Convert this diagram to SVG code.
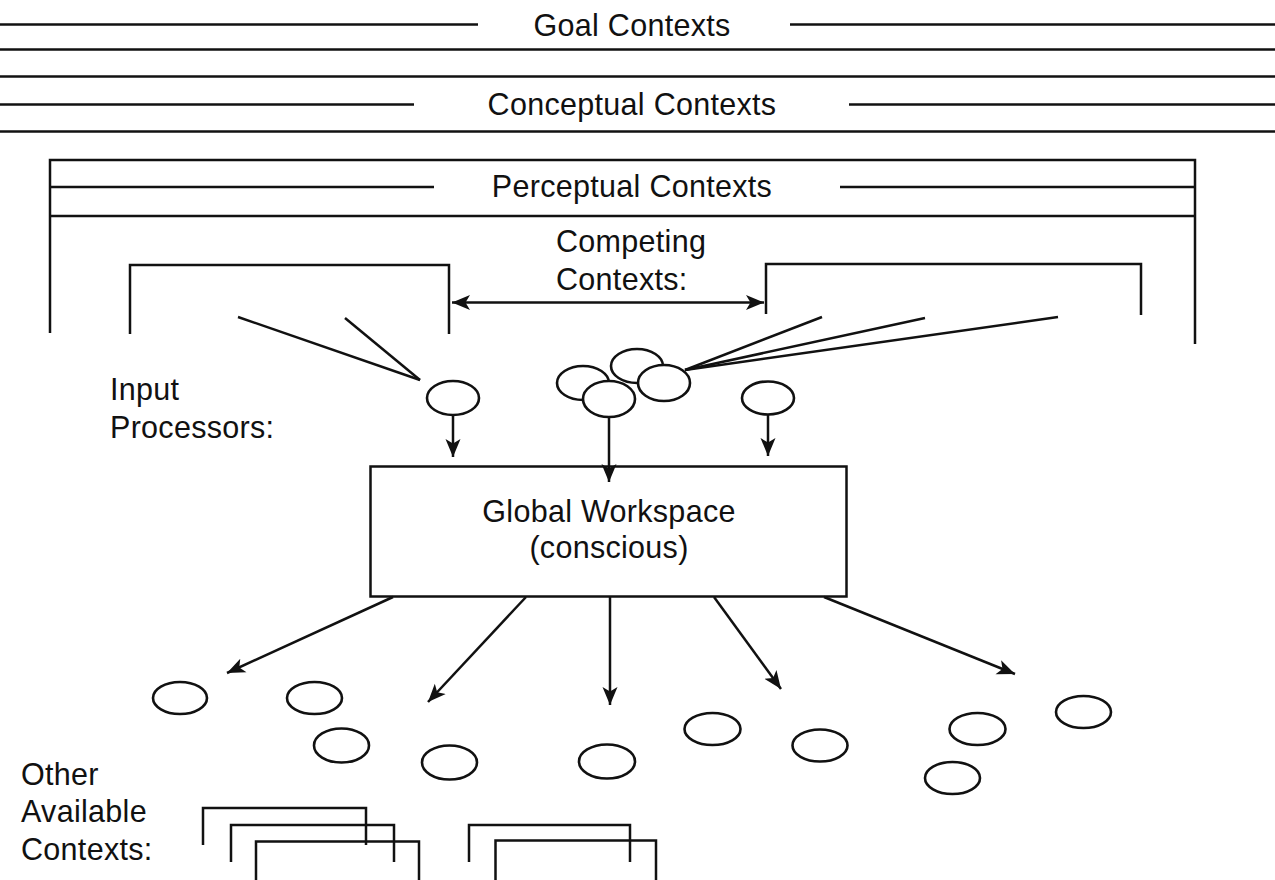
<svg xmlns="http://www.w3.org/2000/svg" width="1275" height="880" viewBox="0 0 1275 880">
<defs>
<style>
.ln{stroke:#111;stroke-width:2.5;fill:none;stroke-linecap:butt}
.el{stroke:#111;stroke-width:2.6;fill:#fff}
.tx{font-family:"Liberation Sans",Arial,sans-serif;font-size:30.5px;fill:#111;letter-spacing:0.3px}
.mid{text-anchor:middle}
</style>
<marker id="ah" markerUnits="userSpaceOnUse" markerWidth="20" markerHeight="16" refX="18" refY="7.5" orient="auto-start-reverse" viewBox="0 0 20 15">
<path d="M0,0 L18,7.5 L0,15 L4.5,7.5 z" fill="#111"/>
</marker>
</defs>
<rect width="1275" height="880" fill="#fff"/>

<g id="goal-contexts">
<line class="ln" x1="0" y1="24.5" x2="478" y2="24.5"/>
<line class="ln" x1="790" y1="24.5" x2="1275" y2="24.5"/>
<line class="ln" x1="0" y1="49.5" x2="1275" y2="49.5"/>
<text class="tx mid" x="632" y="36">Goal Contexts</text>
</g>

<g id="conceptual-contexts">
<line class="ln" x1="0" y1="76.5" x2="1275" y2="76.5"/>
<line class="ln" x1="0" y1="104.5" x2="414" y2="104.5"/>
<line class="ln" x1="849" y1="104.5" x2="1275" y2="104.5"/>
<line class="ln" x1="0" y1="131.5" x2="1275" y2="131.5"/>
<text class="tx mid" x="632" y="115">Conceptual Contexts</text>
</g>

<g id="perceptual-contexts">
<path class="ln" d="M50,333 V160 H1195 V344"/>
<line class="ln" x1="50" y1="187" x2="434" y2="187"/>
<line class="ln" x1="840" y1="187" x2="1195" y2="187"/>
<line class="ln" x1="50" y1="216" x2="1195" y2="216"/>
<text class="tx mid" x="632" y="197">Perceptual Contexts</text>
</g>

<g id="competing-contexts">
<path class="ln" d="M130,334 V265 H449 V334"/>
<path class="ln" d="M766,314 V264 H1141 V315"/>
<text class="tx" x="556" y="252">Competing</text>
<text class="tx" x="556" y="290">Contexts:</text>
</g>

<g id="input-processors">
<text class="tx" x="110" y="400">Input</text>
<text class="tx" x="110" y="438">Processors:</text>
<ellipse class="el" cx="453" cy="398" rx="26" ry="17"/>
<ellipse class="el" cx="583" cy="383" rx="26" ry="17"/>
<ellipse class="el" cx="637" cy="366" rx="26" ry="17"/>
<ellipse class="el" cx="609" cy="399" rx="26" ry="18"/>
<ellipse class="el" cx="664" cy="383" rx="26" ry="18"/>
<ellipse class="el" cx="768" cy="398" rx="26" ry="16.5"/>
</g>

<g id="global-workspace">
<rect class="ln" x="370.5" y="466.5" width="476" height="130" fill="#fff"/>
<text class="tx mid" x="609" y="522">Global Workspace</text>
<text class="tx mid" x="609" y="558">(conscious)</text>
</g>

<g id="other-available-contexts">
<text class="tx" x="21" y="785">Other</text>
<text class="tx" x="21" y="822">Available</text>
<text class="tx" x="21" y="860">Contexts:</text>
<ellipse class="el" cx="180" cy="698" rx="27" ry="16"/>
<ellipse class="el" cx="314.5" cy="698" rx="27.5" ry="16"/>
<ellipse class="el" cx="341.5" cy="745.5" rx="27.5" ry="17"/>
<ellipse class="el" cx="449.5" cy="762.5" rx="27.5" ry="17"/>
<ellipse class="el" cx="607" cy="761.5" rx="28" ry="17"/>
<ellipse class="el" cx="712.5" cy="729" rx="28" ry="16"/>
<ellipse class="el" cx="820" cy="745.5" rx="27.5" ry="16"/>
<ellipse class="el" cx="977.5" cy="729" rx="28" ry="16"/>
<ellipse class="el" cx="1083.5" cy="712" rx="27.5" ry="16"/>
<ellipse class="el" cx="952.5" cy="778" rx="27.5" ry="16"/>
<path class="ln" d="M203,845 V808 H366 V845"/>
<path class="ln" d="M231,862 V825 H394 V862"/>
<path class="ln" d="M256,880 V841.5 H419 V880"/>
<path class="ln" d="M469,862 V825 H630 V862"/>
<path class="ln" d="M495.5,880 V840.5 H656 V880"/>
</g>

<g id="connectors">
<line class="ln" x1="452" y1="302.5" x2="764" y2="302.5" marker-start="url(#ah)" marker-end="url(#ah)"/>
<line class="ln" x1="238" y1="317" x2="420" y2="380"/>
<line class="ln" x1="345" y1="318" x2="420" y2="380"/>
<line class="ln" x1="685" y1="370" x2="822" y2="317"/>
<line class="ln" x1="685" y1="370" x2="925" y2="318"/>
<line class="ln" x1="685" y1="370" x2="1058" y2="317"/>
<line class="ln" x1="453" y1="415" x2="453" y2="457" marker-end="url(#ah)"/>
<line class="ln" x1="609" y1="417" x2="609" y2="482" marker-end="url(#ah)"/>
<line class="ln" x1="768" y1="414.5" x2="768" y2="456" marker-end="url(#ah)"/>
<line class="ln" x1="393" y1="597" x2="227" y2="673" marker-end="url(#ah)"/>
<line class="ln" x1="526" y1="597" x2="428" y2="702" marker-end="url(#ah)"/>
<line class="ln" x1="610" y1="597" x2="610" y2="705" marker-end="url(#ah)"/>
<line class="ln" x1="714" y1="597" x2="781" y2="689" marker-end="url(#ah)"/>
<line class="ln" x1="824" y1="597" x2="1015" y2="674" marker-end="url(#ah)"/>
</g>
</svg>
